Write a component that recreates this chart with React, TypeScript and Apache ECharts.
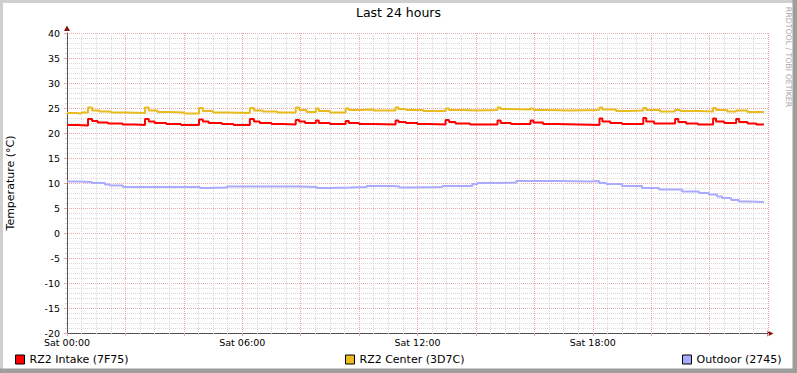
import React, { useEffect, useRef } from "react";
import * as echarts from "echarts";

const TITLE = "Last 24 hours";
const Y_TITLE = "Temperature (°C)";
const WATERMARK = "RRDTOOL / TOBI OETIKER";

const seriesNames = ["RZ2 Intake (7F75)", "RZ2 Center (3D7C)", "Outdoor (2745)"];
const seriesColors = ["#FF0000", "#EABB1E", "#AAAAFF"];
const legendLefts = [15, 345, 682];

// x axis in hours since Sat 00:00
const xTickLabels: Record<number, string> = {
  0: "Sat 00:00",
  6: "Sat 06:00",
  12: "Sat 12:00",
  18: "Sat 18:00",
};
const X_MIN = 0;
const X_MAX = 24;
const X_STEP = 2;
const Y_MIN = -20;
const Y_MAX = 40;
const Y_STEP = 5;

// [hour, °C] change points (step curves)
const intakeData: number[][] = [
  [0, 21.6], [0.35, 21.5], [0.72, 22.8], [0.86, 22.4], [1.05, 22.1], [1.4, 21.9], [1.9, 21.7], [2.3, 21.6],
  [2.67, 22.8], [2.8, 22.3], [3.0, 22.0], [3.4, 21.8], [3.9, 21.6],
  [4.52, 22.7], [4.65, 22.3], [4.85, 22.0], [5.3, 21.8], [5.7, 21.6],
  [6.26, 22.8], [6.4, 22.3], [6.6, 22.0], [7.0, 21.8], [7.4, 21.7],
  [7.83, 22.6], [7.95, 22.3], [8.15, 22.0],
  [8.52, 22.5], [8.62, 22.0], [9.0, 21.8],
  [9.54, 22.4], [9.65, 22.0], [10.0, 21.8], [10.5, 21.7],
  [11.25, 22.5], [11.35, 22.2], [11.6, 22.0], [12.0, 21.8], [12.4, 21.7],
  [12.96, 22.6], [13.08, 22.2], [13.3, 21.9], [13.8, 21.7],
  [14.74, 22.5], [14.85, 22.0], [15.2, 21.8],
  [15.87, 22.5], [15.97, 22.1], [16.3, 21.8], [16.8, 21.7], [17.5, 21.6],
  [18.23, 22.9], [18.33, 22.3], [18.6, 22.0], [19.0, 21.8],
  [19.73, 23.0], [19.83, 22.3], [20.1, 21.9],
  [20.82, 22.8], [20.93, 22.2], [21.2, 21.9], [21.6, 21.7],
  [22.12, 22.9], [22.22, 22.3], [22.5, 22.0],
  [22.91, 22.8], [23.01, 22.2], [23.3, 21.9], [23.6, 21.7], [23.86, 21.7],
];

const centerData: number[][] = [
  [0, 24.0], [0.3, 23.9], [0.5, 24.1], [0.72, 25.1], [0.86, 24.5], [1.1, 24.3], [1.5, 24.1], [2.0, 24.0],
  [2.67, 25.1], [2.8, 24.5], [3.1, 24.2], [3.5, 24.1], [4.0, 23.9],
  [4.52, 25.0], [4.65, 24.4], [5.0, 24.1], [5.5, 24.0],
  [6.26, 25.0], [6.4, 24.5], [6.7, 24.3], [7.2, 24.1],
  [7.83, 25.1], [7.95, 24.6], [8.2, 24.2],
  [8.52, 24.9], [8.62, 24.4], [9.0, 24.1],
  [9.54, 24.9], [9.65, 24.6], [10.0, 24.7], [10.5, 24.5],
  [11.25, 25.1], [11.35, 24.8], [11.6, 24.6], [12.2, 24.4],
  [12.96, 24.9], [13.08, 24.6], [13.6, 24.5], [14.0, 24.6],
  [14.74, 25.1], [14.85, 24.8], [15.2, 24.7],
  [15.87, 24.9], [15.97, 24.6], [16.5, 24.5], [17.2, 24.6],
  [18.23, 25.1], [18.33, 24.7], [18.8, 24.4], [19.2, 24.5],
  [19.73, 25.0], [19.83, 24.6], [20.3, 24.3],
  [20.82, 24.6], [21.0, 24.4], [21.6, 24.3],
  [22.12, 25.0], [22.22, 24.6], [22.6, 24.3],
  [22.91, 24.5], [23.3, 24.2], [23.86, 24.3],
];

const outdoorData: number[][] = [
  [0, 10.3], [0.38, 10.2], [0.85, 10.0], [1.3, 9.7], [1.47, 9.5], [1.91, 9.2],
  [4.55, 9.0], [4.79, 9.1], [5.47, 9.3], [7.97, 9.2], [8.55, 9.0], [9.0, 9.1],
  [9.68, 9.2], [10.26, 9.4], [11.15, 9.3], [11.38, 9.1], [11.73, 9.2],
  [12.85, 9.4], [13.88, 9.8], [14.05, 10.0], [14.63, 10.1], [15.38, 10.4],
  [16.85, 10.3], [17.88, 10.4], [18.22, 10.0], [18.46, 9.8], [19.0, 9.4],
  [19.69, 9.0], [20.27, 8.7], [21.06, 8.3], [21.64, 8.0], [21.98, 7.7],
  [22.26, 7.3], [22.43, 7.0], [22.74, 6.6], [23.0, 6.3], [23.35, 6.2], [23.86, 6.3],
];

const allData = [intakeData, centerData, outdoorData];

const FONT = "DejaVu Sans";
const MAJOR = "#eaa8a8";
const MINOR = "#d9d9d9";

export default function App() {
  const ref = useRef<HTMLDivElement>(null);
  useEffect(() => {
    if (!ref.current) return;
    const chart = echarts.init(ref.current, undefined, { renderer: "svg" });
    const gridLeft = 67, gridTop = 33, gridW = 701, gridH = 300;
    const option: any = {
      animation: false,
      backgroundColor: "#ffffff",
      textStyle: { fontFamily: FONT },
      title: {
        text: TITLE,
        left: "center",
        top: 6,
        padding: 0,
        textStyle: { fontSize: 12.5, fontWeight: "normal", color: "#000", fontFamily: FONT },
      },
      grid: { left: gridLeft, top: gridTop, width: gridW, height: gridH, containLabel: false },
      legend: seriesNames.map((n, i) => ({
        data: [n],
        left: legendLefts[i],
        top: 354,
        padding: 0,
        icon: "rect",
        itemWidth: 9,
        itemHeight: 9,
        selectedMode: false,
        itemStyle: { borderColor: "#000", borderWidth: 1 },
        textStyle: { fontSize: 11, color: "#000", fontFamily: FONT },
      })),
      xAxis: {
        type: "value",
        min: X_MIN,
        max: X_MAX,
        interval: X_STEP,
        axisLine: { show: true, onZero: false, lineStyle: { color: "#555", width: 1 } },
        axisTick: { show: true, length: 3, lineStyle: { color: MAJOR } },
        minorTick: { show: true, splitNumber: 4, length: 2, lineStyle: { color: MINOR } },
        splitLine: { show: true, lineStyle: { color: MAJOR, type: [1, 1], width: 1 } },
        minorSplitLine: { show: true, lineStyle: { color: MINOR, type: [1, 1], width: 1 } },
        axisLabel: {
          formatter: (v: number) => xTickLabels[v] ?? "",
          fontSize: 9.5,
          color: "#000",
          margin: 4,
          fontFamily: FONT,
          showMaxLabel: false,
        },
      },
      yAxis: {
        type: "value",
        min: Y_MIN,
        max: Y_MAX,
        interval: Y_STEP,
        axisLine: { show: true, onZero: false, lineStyle: { color: "#555", width: 1 } },
        axisTick: { show: true, length: 3, lineStyle: { color: MAJOR } },
        minorTick: { show: true, splitNumber: 5, length: 2, lineStyle: { color: MINOR } },
        splitLine: { show: true, lineStyle: { color: MAJOR, type: [1, 1], width: 1 } },
        minorSplitLine: { show: true, lineStyle: { color: MINOR, type: [1, 1], width: 1 } },
        axisLabel: { fontSize: 9.5, color: "#000", margin: 7, fontFamily: FONT },
      },
      series: seriesNames.map((n, i) => ({
        name: n,
        type: "line",
        step: "end",
        data: allData[i],
        showSymbol: false,
        symbol: "none",
        color: seriesColors[i],
        itemStyle: { color: seriesColors[i] },
        lineStyle: { color: seriesColors[i], width: 2 },
      })),
      graphic: [
        { type: "rect", shape: { x: 0, y: 0, width: 797, height: 3 }, style: { fill: "#cfcfcf" } },
        { type: "rect", shape: { x: 0, y: 0, width: 3, height: 373 }, style: { fill: "#cfcfcf" } },
        { type: "rect", shape: { x: 0, y: 368.5, width: 797, height: 4.5 }, style: { fill: "#9e9e9e" } },
        { type: "rect", shape: { x: 792.5, y: 0, width: 4.5, height: 373 }, style: { fill: "#9e9e9e" } },
        {
          type: "polygon",
          shape: { points: [[64, 31], [70, 31], [67, 25.5]] },
          style: { fill: "#8a1010" },
        },
        {
          type: "polygon",
          shape: { points: [[767.5, 330.5], [767.5, 336.5], [773.5, 333.5]] },
          style: { fill: "#8a1010" },
        },
        {
          type: "text",
          x: 10,
          y: 183,
          rotation: Math.PI / 2,
          style: {
            text: Y_TITLE,
            fill: "#000",
            fontSize: 11,
            fontFamily: FONT,
            align: "center",
            verticalAlign: "middle",
          },
        },
        {
          type: "text",
          x: 788.5,
          y: 57,
          rotation: -Math.PI / 2,
          style: {
            text: WATERMARK,
            fill: "#a8a8a8",
            fontSize: 7.8,
            fontFamily: FONT,
            align: "center",
            verticalAlign: "middle",
          },
        },
      ],
    };
    chart.setOption(option);
    return () => chart.dispose();
  }, []);
  return (
    <div
      ref={ref}
      style={{ position: "fixed", left: 0, top: 0, width: 797, height: 373, background: "#fff" }}
    />
  );
}
